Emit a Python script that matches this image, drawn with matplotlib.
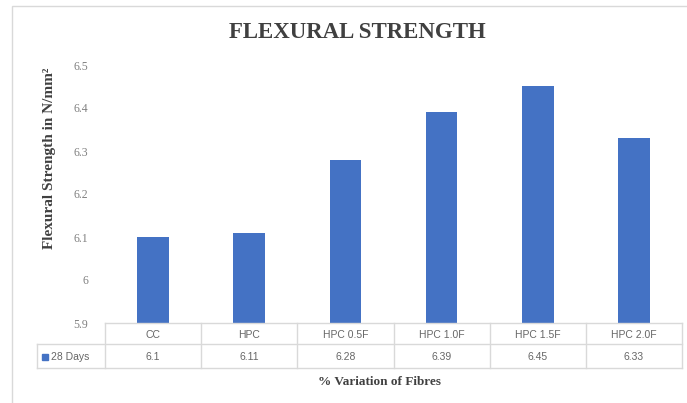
import matplotlib
matplotlib.use("Agg")
import matplotlib.pyplot as plt
import matplotlib.transforms as mtransforms
from matplotlib.patches import Rectangle
from matplotlib.lines import Line2D

categories = ["CC", "HPC", "HPC 0.5F", "HPC 1.0F", "HPC 1.5F", "HPC 2.0F"]
values_28 = [6.1, 6.11, 6.28, 6.39, 6.45, 6.33]
value_labels = ["6.1", "6.11", "6.28", "6.39", "6.45", "6.33"]
yticks = [5.9, 6.0, 6.1, 6.2, 6.3, 6.4, 6.5]
ytick_labels = ["5.9", "6", "6.1", "6.2", "6.3", "6.4", "6.5"]
series_name = "28 Days"

W, H = 687, 403
fig = plt.figure(figsize=(W / 100, H / 100), dpi=100)

def fx(px):
    return px / W

def fy(py):
    return 1 - py / H

ax_left, ax_right, ax_top, ax_bot = 105, 682, 65, 323
ax = fig.add_axes([fx(ax_left), fy(ax_bot), fx(ax_right - ax_left), (ax_bot - ax_top) / H])

bar_color = "#4472C4"
xs = list(range(len(categories)))
ax.bar(xs, [v - 5.9 for v in values_28], bottom=5.9, width=0.33, color=bar_color, zorder=3)
ax.set_xlim(-0.5, len(categories) - 0.5)
ax.set_ylim(5.9, 6.5)
ax.set_yticks(yticks)
ax.set_yticklabels(ytick_labels, fontsize=8.5, color="#808080", family="Liberation Serif")
ax.tick_params(axis="y", length=0, pad=12)
ax.set_xticks([])
for s in ax.spines.values():
    s.set_visible(False)

# chart outer frame
fig.add_artist(Rectangle((fx(12), fy(H + 10)), 1.2, fy(6) - fy(H + 10),
                         transform=fig.transFigure, fill=False,
                         edgecolor="#d9d9d9", linewidth=1.0))

# data table
lc = "#d9d9d9"
row1_top, row1_bot, row2_bot = 323, 344, 368
col_edges = [ax_left + i * (ax_right - ax_left) / len(categories) for i in range(len(categories) + 1)]
hdr_left = 37

def hline(x0, x1, y):
    fig.add_artist(Line2D([fx(x0), fx(x1)], [fy(y), fy(y)], transform=fig.transFigure, color=lc, lw=1.0))

def vline(x, y0, y1):
    fig.add_artist(Line2D([fx(x), fx(x)], [fy(y0), fy(y1)], transform=fig.transFigure, color=lc, lw=1.0))

hline(ax_left, ax_right, row1_top)
hline(hdr_left, ax_right, row1_bot)
hline(hdr_left, ax_right, row2_bot)
for x in col_edges:
    vline(x, row1_top, row2_bot)
vline(hdr_left, row1_bot, row2_bot)

tc = "#666666"
trans = mtransforms.blended_transform_factory(ax.transData, fig.transFigure)
for i, (c, v) in enumerate(zip(categories, value_labels)):
    fig.text(i, fy((row1_top + row1_bot) / 2 + 1), c, transform=trans, ha="center", va="center",
             fontsize=7.5, color=tc, family="Liberation Sans")
    fig.text(i, fy((row1_bot + row2_bot) / 2 + 1), v, transform=trans, ha="center", va="center",
             fontsize=7.5, color=tc, family="Liberation Sans")

fig.add_artist(Rectangle((fx(42), fy(360)), fx(6), fy(354) - fy(360), transform=fig.transFigure,
                         color=bar_color))
fig.text(fx(51), fy((row1_bot + row2_bot) / 2 + 1), series_name, ha="left", va="center",
         fontsize=7.5, color=tc, family="Liberation Sans")

dark = "#404040"
fig.text(fx(357), fy(33), "FLEXURAL STRENGTH", ha="center", va="center", fontsize=16.5,
         fontweight="bold", color=dark, family="Liberation Serif")
fig.text(fx(380), fy(382), "% Variation of Fibres", ha="center", va="center", fontsize=9.5,
         fontweight="bold", color=dark, family="Liberation Serif")
fig.text(fx(50), fy(158), "Flexural Strength in N/mm\u00b2", ha="center", va="center", rotation=90,
         fontsize=11, fontweight="bold", color=dark, family="Liberation Serif")

fig.savefig("out.png", dpi=100, facecolor="white")
